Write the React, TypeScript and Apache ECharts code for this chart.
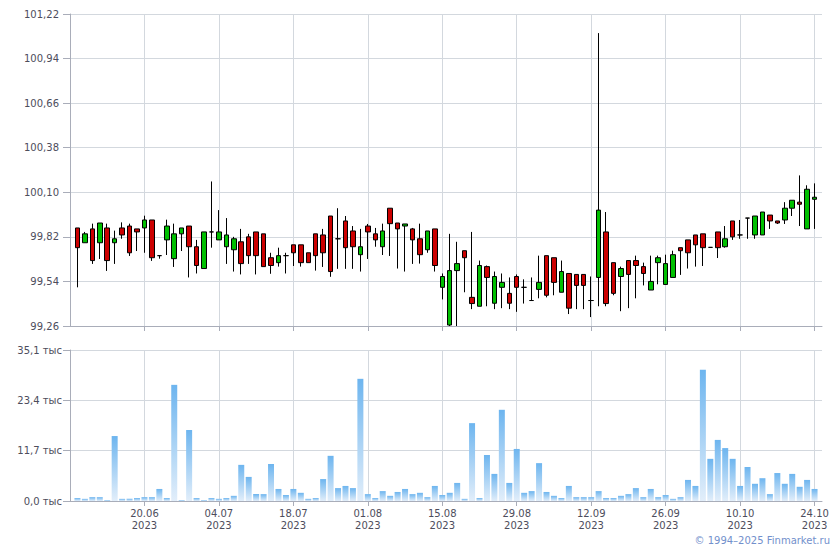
import React, { useEffect, useRef } from 'react';
import * as echarts from 'echarts';

const dates = [
  '06.06','07.06','08.06','09.06','13.06','14.06','15.06','16.06','19.06','20.06',
  '21.06','22.06','23.06','26.06','27.06','28.06','29.06','30.06','03.07','04.07',
  '05.07','06.07','07.07','10.07','11.07','12.07','13.07','14.07','17.07','18.07',
  '19.07','20.07','21.07','24.07','25.07','26.07','27.07','28.07','31.07','01.08',
  '02.08','03.08','04.08','07.08','08.08','09.08','10.08','11.08','14.08','15.08',
  '16.08','17.08','18.08','21.08','22.08','23.08','24.08','25.08','28.08','29.08',
  '30.08','31.08','01.09','04.09','05.09','06.09','07.09','08.09','11.09','12.09',
  '13.09','14.09','15.09','18.09','19.09','20.09','21.09','22.09','25.09','26.09',
  '27.09','28.09','29.09','02.10','03.10','04.10','05.10','06.10','09.10','10.10',
  '11.10','12.10','13.10','16.10','17.10','18.10','19.10','20.10','23.10','24.10',
];
const padBefore = '05.06';
const padAfter = '25.10';
const year = '2023';

const open = [
  99.876, 99.783, 99.870, 99.783, 99.876, 99.783, 99.876, 99.888, 99.870, 99.876,
  99.926, 99.702, 99.801, 99.683, 99.839, 99.888, 99.758, 99.621, 99.851, 99.801,
  99.758, 99.739, 99.789, 99.820, 99.851, 99.839, 99.689, 99.658, 99.702, 99.770,
  99.770, 99.720, 99.839, 99.832, 99.951, 99.808, 99.920, 99.857, 99.708, 99.888,
  99.839, 99.758, 100.000, 99.907, 99.888, 99.870, 99.808, 99.739, 99.870, 99.503,
  99.266, 99.608, 99.733, 99.440, 99.384, 99.633, 99.403, 99.503, 99.465, 99.571,
  99.503, 99.420, 99.490, 99.702, 99.689, 99.472, 99.590, 99.584, 99.584, 99.420,
  99.565, 99.851, 99.658, 99.571, 99.671, 99.671, 99.633, 99.486, 99.658, 99.521,
  99.565, 99.752, 99.801, 99.832, 99.839, 99.754, 99.851, 99.758, 99.920, 99.832,
  99.938, 99.832, 99.832, 99.957, 99.920, 99.926, 100.000, 100.038, 99.870, 100.056,
];
const close = [
  99.752, 99.839, 99.671, 99.907, 99.671, 99.808, 99.832, 99.720, 99.851, 99.926,
  99.689, 99.702, 99.888, 99.839, 99.876, 99.758, 99.640, 99.851, 99.851, 99.851,
  99.832, 99.808, 99.652, 99.702, 99.702, 99.633, 99.640, 99.702, 99.702, 99.720,
  99.658, 99.658, 99.702, 99.720, 99.602, 99.808, 99.752, 99.758, 99.758, 99.851,
  99.801, 99.857, 99.903, 99.870, 99.901, 99.801, 99.708, 99.857, 99.640, 99.571,
  99.608, 99.652, 99.689, 99.401, 99.640, 99.565, 99.571, 99.534, 99.403, 99.503,
  99.503, 99.420, 99.534, 99.453, 99.534, 99.602, 99.372, 99.515, 99.515, 99.420,
  99.988, 99.401, 99.465, 99.621, 99.584, 99.640, 99.590, 99.540, 99.689, 99.652,
  99.708, 99.733, 99.720, 99.770, 99.752, 99.754, 99.752, 99.808, 99.820, 99.832,
  99.938, 99.951, 99.976, 99.920, 99.907, 100.000, 100.050, 100.025, 100.119, 100.069,
];
const low = [
  99.503, 99.783, 99.650, 99.681, 99.606, 99.650, 99.808, 99.700, 99.731, 99.720,
  99.669, 99.683, 99.706, 99.631, 99.731, 99.565, 99.590, 99.621, 99.752, 99.801,
  99.650, 99.602, 99.584, 99.650, 99.584, 99.633, 99.588, 99.633, 99.590, 99.637,
  99.633, 99.658, 99.608, 99.631, 99.569, 99.619, 99.619, 99.619, 99.602, 99.681,
  99.758, 99.706, 99.700, 99.621, 99.602, 99.650, 99.652, 99.720, 99.602, 99.427,
  99.260, 99.260, 99.472, 99.366, 99.384, 99.384, 99.366, 99.372, 99.366, 99.349,
  99.401, 99.420, 99.434, 99.440, 99.453, 99.472, 99.335, 99.366, 99.366, 99.316,
  99.384, 99.384, 99.453, 99.353, 99.372, 99.434, 99.515, 99.486, 99.522, 99.521,
  99.565, 99.581, 99.621, 99.633, 99.637, 99.754, 99.687, 99.752, 99.801, 99.808,
  99.808, 99.808, 99.832, 99.870, 99.901, 99.901, 99.951, 99.888, 99.870, 99.870,
];
const high = [
  99.876, 99.851, 99.903, 99.907, 99.903, 99.859, 99.911, 99.903, 99.870, 99.953,
  99.926, 99.702, 99.928, 99.903, 99.876, 99.888, 99.801, 99.851, 100.168, 99.988,
  99.938, 99.820, 99.870, 99.839, 99.851, 99.839, 99.720, 99.752, 99.720, 99.770,
  99.770, 99.720, 99.839, 99.870, 99.951, 100.000, 99.951, 99.888, 99.870, 99.901,
  99.876, 99.903, 100.000, 99.907, 99.901, 99.876, 99.903, 99.857, 99.870, 99.590,
  99.839, 99.789, 99.733, 99.851, 99.671, 99.640, 99.602, 99.590, 99.565, 99.584,
  99.553, 99.565, 99.702, 99.702, 99.689, 99.671, 99.590, 99.584, 99.584, 99.571,
  101.100, 99.976, 99.658, 99.633, 99.671, 99.702, 99.658, 99.702, 99.702, 99.708,
  99.733, 99.752, 99.801, 99.832, 99.839, 99.754, 99.851, 99.888, 99.920, 99.926,
  99.938, 99.951, 99.976, 99.957, 99.920, 100.038, 100.050, 100.206, 100.144, 100.156,
];
// thousands
const volume = [
  0.7, 0.5, 0.9, 0.9, 0.2, 15.1, 0.5, 0.5, 0.7, 0.9,
  0.9, 2.8, 0.7, 27.0, 0.2, 16.5, 0.7, 0.2, 0.7, 0.5,
  0.7, 1.2, 8.4, 5.6, 1.6, 1.6, 8.6, 2.8, 1.4, 2.8,
  1.9, 0.5, 0.7, 5.1, 10.5, 3.0, 3.5, 3.0, 28.4, 1.6,
  0.7, 2.3, 1.2, 2.1, 2.8, 1.6, 1.9, 0.9, 3.5, 1.4,
  1.9, 4.2, 0.5, 18.1, 0.7, 10.7, 6.3, 21.2, 4.2, 12.1,
  1.9, 2.3, 8.8, 2.1, 1.2, 0.7, 3.5, 0.9, 0.9, 0.9,
  2.3, 0.7, 0.7, 1.2, 1.6, 3.0, 0.9, 2.8, 0.9, 1.4,
  0.5, 0.9, 4.9, 3.5, 30.5, 9.8, 14.2, 12.3, 9.8, 3.5,
  7.9, 4.0, 5.3, 1.6, 6.5, 4.0, 6.3, 3.3, 4.9, 2.8,
];

const priceMin = 99.26;
const priceMax = 101.22;
const priceStep = 0.28;
const volMin = 0;
const volMax = 35.1;
const volStep = 11.7;
const volUnit = 'тыс';
const copyright = '© 1994–2025 Finmarket.ru';

const FONT = 'DejaVu Sans';
const AXIS = '#a9adb9';
const GRID = '#d3d8de';
const LABEL = '#4d4d5c';

export default function App() {
  const ref = useRef<HTMLDivElement>(null);
  useEffect(() => {
    const chart = echarts.init(ref.current as HTMLDivElement, null, { renderer: 'svg' });
    const cats = [padBefore, ...dates, padAfter];
    const isLabel = (i: number) => i >= 1 && i <= dates.length && (i - 1) % 10 === 9;
    const candles = dates.map((_, i) => [i + 1, open[i], close[i], low[i], high[i]]);
    const vols = dates.map((_, i) => [i + 1, volume[i]]);

    const xCommon = (gridIndex: number, showLabel: boolean) => ({
      type: 'category',
      gridIndex,
      data: cats,
      boundaryGap: false,
      axisLine: { show: true, lineStyle: { color: AXIS, width: 1 } },
      axisTick: { show: true, interval: (i: number) => isLabel(i), length: 5, lineStyle: { color: AXIS } },
      splitLine: { show: true, interval: (i: number) => isLabel(i), lineStyle: { color: GRID, width: 1 } },
      axisLabel: {
        show: showLabel,
        interval: (i: number) => isLabel(i),
        formatter: (v: string) => v + '\n' + year,
        color: LABEL,
        fontFamily: FONT,
        fontSize: 10,
        lineHeight: 12,
        margin: 6,
      },
    });

    chart.setOption({
      animation: false,
      backgroundColor: '#ffffff',
      grid: [
        { left: 70, right: 18, top: 14, height: 312 },
        { left: 70, right: 18, top: 350, height: 151 },
      ],
      xAxis: [xCommon(0, false), xCommon(1, true)],
      yAxis: [
        {
          type: 'value',
          gridIndex: 0,
          min: priceMin,
          max: priceMax,
          interval: priceStep,
          axisLine: { show: true, lineStyle: { color: AXIS } },
          axisTick: { show: true, length: 7, lineStyle: { color: AXIS } },
          splitLine: { show: true, lineStyle: { color: GRID } },
          axisLabel: {
            color: LABEL,
            fontFamily: FONT,
            fontSize: 10,
            margin: 11,
            formatter: (v: number) => v.toFixed(2).replace('.', ','),
          },
        },
        {
          type: 'value',
          gridIndex: 1,
          min: volMin,
          max: volMax,
          interval: volStep,
          axisLine: { show: true, lineStyle: { color: AXIS } },
          axisTick: { show: true, length: 7, lineStyle: { color: AXIS } },
          splitLine: { show: true, lineStyle: { color: GRID } },
          axisLabel: {
            color: LABEL,
            fontFamily: FONT,
            fontSize: 10,
            margin: 8,
            formatter: (v: number) => v.toFixed(1).replace('.', ',') + ' ' + volUnit,
          },
        },
      ],
      series: [
        {
          type: 'candlestick',
          xAxisIndex: 0,
          yAxisIndex: 0,
          dimensions: ['x', 'open', 'close', 'lowest', 'highest'],
          encode: { x: 'x', y: ['open', 'close', 'lowest', 'highest'] },
          data: candles,
          barWidth: 5,
          itemStyle: {
            color: '#00c000',
            color0: '#cc0000',
            borderColor: '#000000',
            borderColor0: '#000000',
            borderColorDoji: '#000000',
            borderWidth: 1,
          },
        },
        {
          type: 'bar',
          xAxisIndex: 1,
          yAxisIndex: 1,
          data: vols,
          barWidth: 6,
          itemStyle: {
            color: new echarts.graphic.LinearGradient(0, 0, 0, 1, [
              { offset: 0, color: '#6db5ef' },
              { offset: 1, color: '#e2eefa' },
            ]),
          },
        },
      ],
      graphic: [
        {
          type: 'text',
          right: 10,
          top: 535,
          style: {
            text: copyright,
            fill: '#7290cc',
            font: '10px "DejaVu Sans"',
          },
        },
      ],
    });
    return () => chart.dispose();
  }, []);
  return <div ref={ref} style={{ position: 'fixed', left: 0, top: 0, width: 840, height: 550 }} />;
}
